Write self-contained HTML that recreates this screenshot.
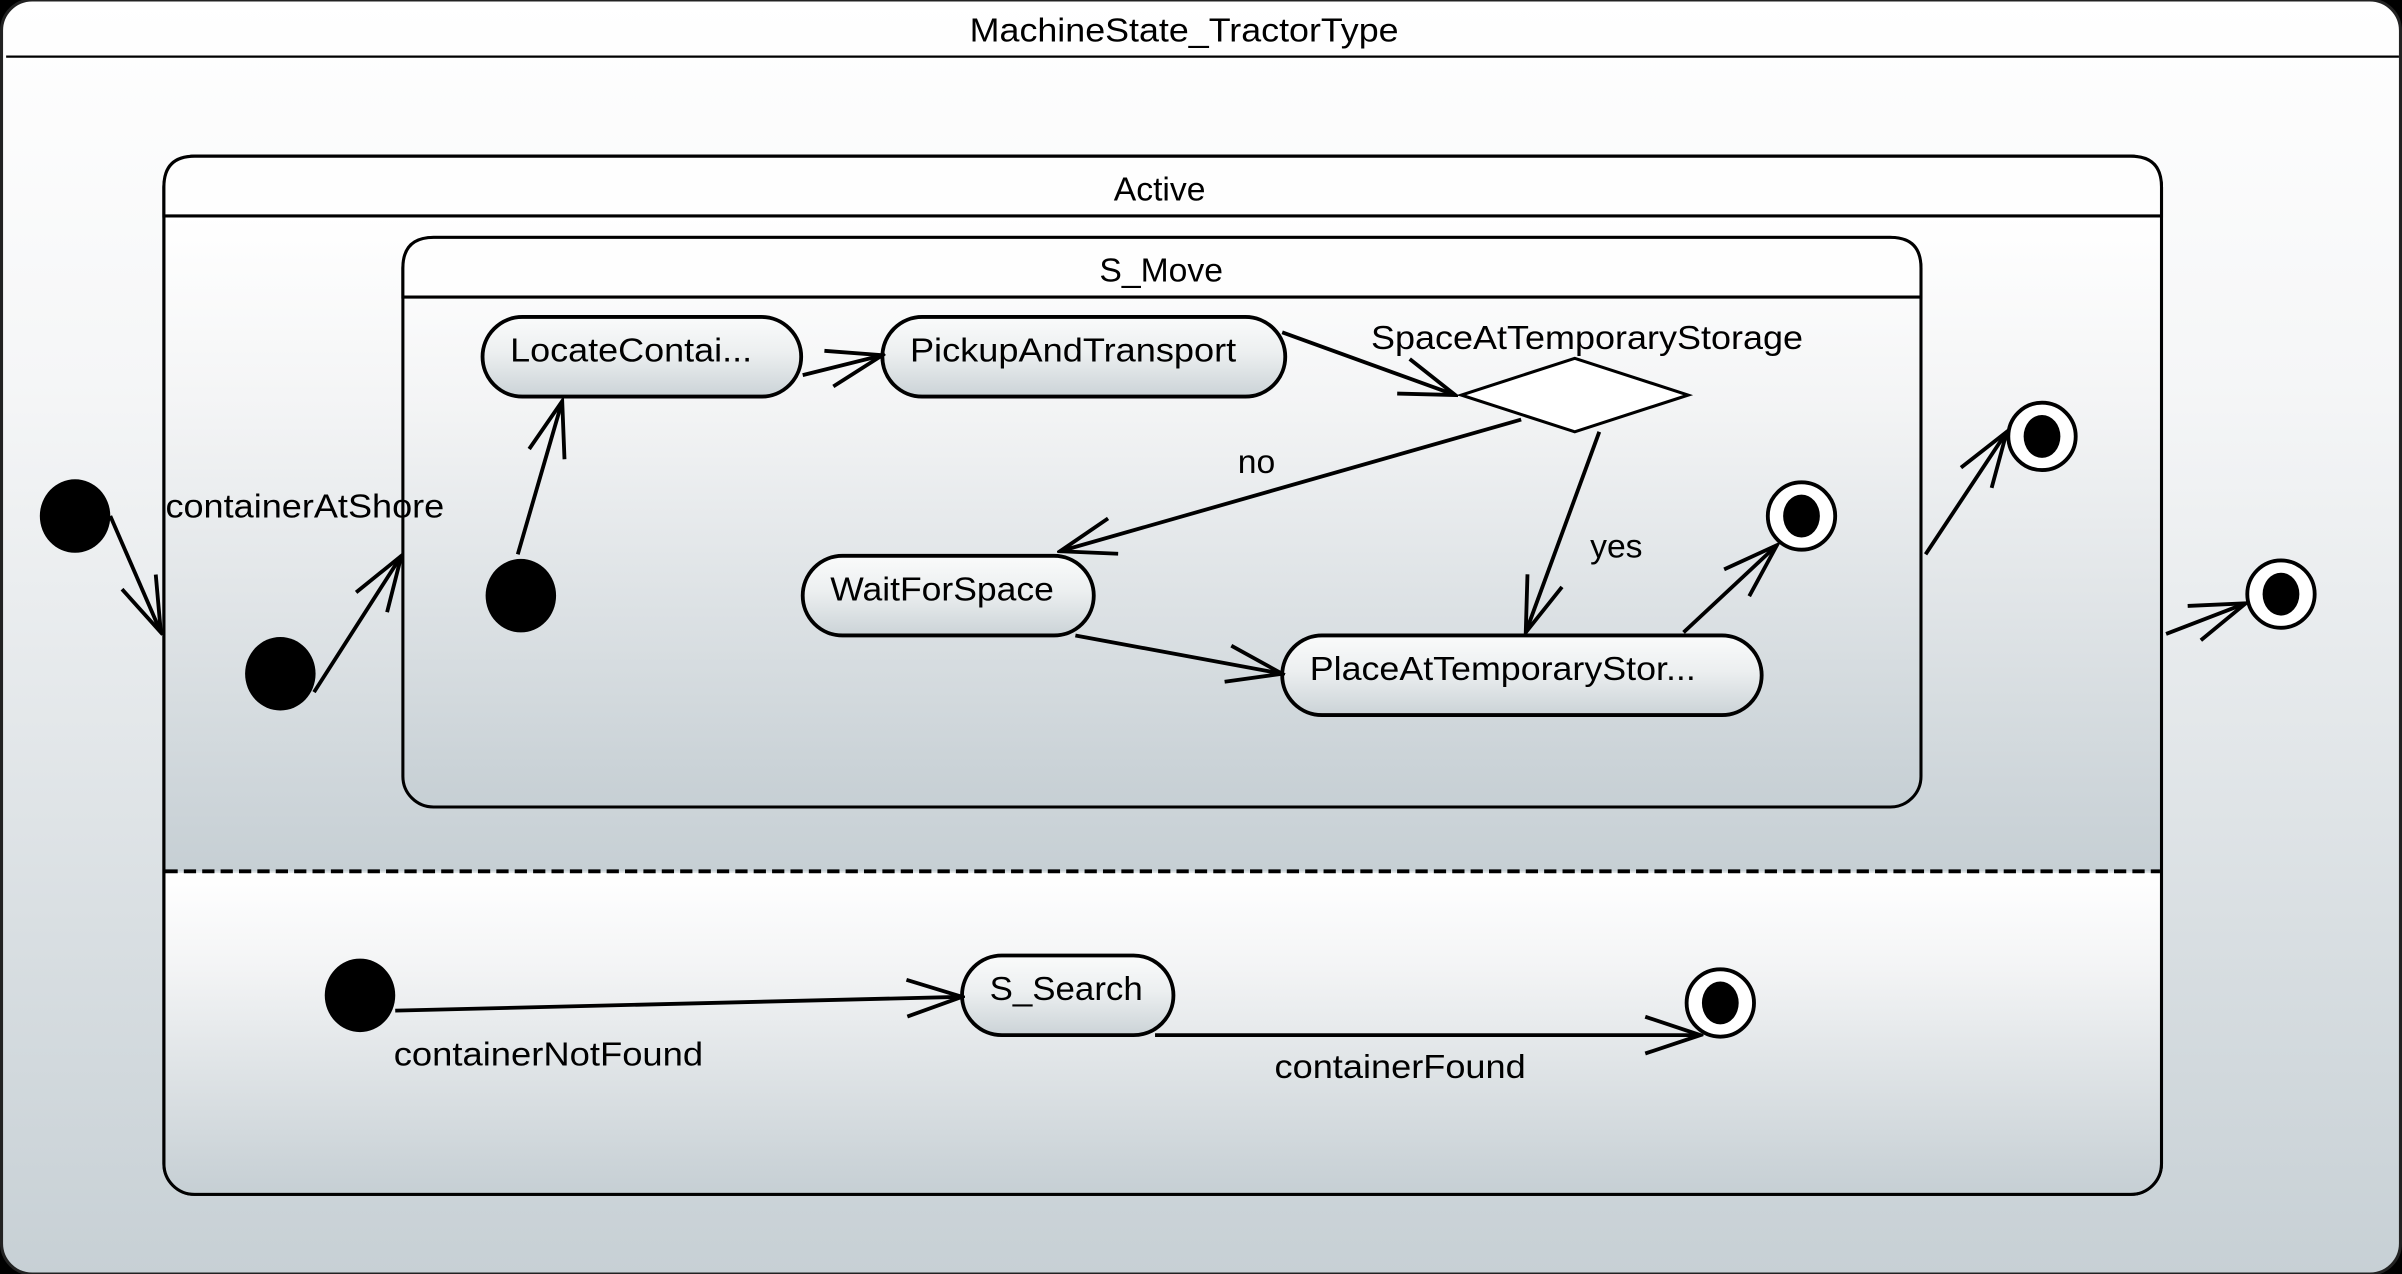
<!DOCTYPE html>
<html><head><meta charset="utf-8"><style>
html,body{margin:0;padding:0;background:#000;}
svg{display:block;}
text{font-family:"Liberation Sans",sans-serif;font-size:22px;fill:#000;}
</style></head><body>
<svg width="2402" height="1274" viewBox="0 0 1568 832" preserveAspectRatio="none" xmlns="http://www.w3.org/2000/svg">
<defs>
<linearGradient id="gOut" x1="0" y1="0" x2="0" y2="1"><stop offset="0" stop-color="#ffffff"/><stop offset="0.3" stop-color="#f5f6f7"/><stop offset="1" stop-color="#c7d0d5"/></linearGradient>
<linearGradient id="gA" x1="0" y1="0" x2="0" y2="1"><stop offset="0" stop-color="#ffffff"/><stop offset="0.3" stop-color="#f3f4f5"/><stop offset="1" stop-color="#c6cfd4"/></linearGradient>
<linearGradient id="gSt" x1="0" y1="0" x2="0" y2="1"><stop offset="0" stop-color="#fafbfb"/><stop offset="0.45" stop-color="#eceff0"/><stop offset="1" stop-color="#cbd3d7"/></linearGradient>
<marker id="ar" viewBox="0 0 40 30" refX="38" refY="15" markerWidth="40" markerHeight="30" markerUnits="userSpaceOnUse" orient="auto">
<path d="M2,3 L38,15 L2,27" fill="none" stroke="#000" stroke-width="2.5"/></marker>
</defs>
<rect x="1" y="0" width="1566" height="832" rx="20" fill="url(#gOut)" stroke="#222" stroke-width="2"/>
<line x1="4" y1="37" x2="1566" y2="37" stroke="#000" stroke-width="1.5"/>
<text x="773" y="27" text-anchor="middle" textLength="280" lengthAdjust="spacingAndGlyphs">MachineState_TractorType</text>
<rect x="107" y="102" width="1304" height="678" rx="20" fill="url(#gA)" stroke="#000" stroke-width="2"/>
<path d="M108,141 H1410 V569 H108 Z" fill="url(#gA)"/>
<path d="M108,570 H1410 V760 Q1410,779 1390,779 H127 Q108,779 108,760 Z" fill="url(#gA)"/>
<rect x="107" y="102" width="1304" height="678" rx="20" fill="none" stroke="#000" stroke-width="2"/>
<path d="M107,122 Q107,102 127,102 H1391 Q1411,102 1411,122 V141 H107 Z" fill="#fefefe" stroke="#000" stroke-width="2"/>
<text x="757" y="131" text-anchor="middle">Active</text>
<line x1="108" y1="569" x2="1410" y2="569" stroke="#000" stroke-width="2.5" stroke-dasharray="8,4"/>
<rect x="263" y="155" width="991" height="372" rx="20" fill="url(#gA)" stroke="#000" stroke-width="2"/>
<path d="M263,175 Q263,155 283,155 H1234 Q1254,155 1254,175 V194 H263 Z" fill="#fefefe" stroke="#000" stroke-width="2"/>
<text x="758" y="184" text-anchor="middle">S_Move</text>
<rect x="315" y="207" width="208" height="52" rx="26" fill="url(#gSt)" stroke="#000" stroke-width="2.5"/>
<text x="333" y="236" textLength="158" lengthAdjust="spacingAndGlyphs">LocateContai...</text>
<rect x="576" y="207" width="263" height="52" rx="26" fill="url(#gSt)" stroke="#000" stroke-width="2.5"/>
<text x="594" y="236" textLength="213" lengthAdjust="spacingAndGlyphs">PickupAndTransport</text>
<rect x="524" y="363" width="190" height="52" rx="26" fill="url(#gSt)" stroke="#000" stroke-width="2.5"/>
<text x="542" y="392" textLength="146" lengthAdjust="spacingAndGlyphs">WaitForSpace</text>
<rect x="837" y="415" width="313" height="52" rx="26" fill="url(#gSt)" stroke="#000" stroke-width="2.5"/>
<text x="855" y="444" textLength="252" lengthAdjust="spacingAndGlyphs">PlaceAtTemporaryStor...</text>
<rect x="628" y="624" width="138" height="52" rx="26" fill="url(#gSt)" stroke="#000" stroke-width="2.5"/>
<text x="646" y="653" textLength="100" lengthAdjust="spacingAndGlyphs">S_Search</text>
<polygon points="954,258 1028,234 1102,258 1028,282" fill="#fff" stroke="#000" stroke-width="2"/>
<text x="895" y="228" textLength="282" lengthAdjust="spacingAndGlyphs">SpaceAtTemporaryStorage</text>
<ellipse cx="49" cy="337" rx="23" ry="24"/>
<ellipse cx="183" cy="440" rx="23" ry="24"/>
<ellipse cx="340" cy="389" rx="23" ry="24"/>
<ellipse cx="235" cy="650" rx="23" ry="24"/>
<g stroke="#000" stroke-width="2.5" fill="#fff">
<circle cx="1333" cy="285" r="22"/><circle cx="1176" cy="337" r="22"/><circle cx="1489" cy="388" r="22"/><circle cx="1123" cy="655" r="22"/>
</g>
<g fill="#000">
<ellipse cx="1333" cy="285" rx="12" ry="14"/><ellipse cx="1176" cy="337" rx="12" ry="14"/><ellipse cx="1489" cy="388" rx="12" ry="14"/><ellipse cx="1123" cy="655" rx="12" ry="14"/>
</g>
<g stroke="#000" stroke-width="2.5" fill="none" marker-end="url(#ar)">
<line x1="72" y1="337" x2="105" y2="413"/>
<line x1="205" y1="452" x2="262" y2="363"/>
<line x1="338" y1="362" x2="367" y2="262"/>
<line x1="524" y1="245" x2="576" y2="232"/>
<line x1="837" y1="217" x2="950" y2="258"/>
<line x1="993" y1="274" x2="692" y2="360"/>
<line x1="1044" y1="282" x2="996" y2="413"/>
<line x1="702" y1="415" x2="837" y2="440"/>
<line x1="1099" y1="413" x2="1160" y2="356"/>
<line x1="1257" y1="362" x2="1310" y2="282"/>
<line x1="1414" y1="414" x2="1466" y2="394"/>
<line x1="258" y1="660" x2="628" y2="651"/>
<polyline points="754,676 1110,676"/>
</g>
<text x="108" y="338" textLength="182" lengthAdjust="spacingAndGlyphs">containerAtShore</text>
<text x="808" y="309">no</text>
<text x="1038" y="364">yes</text>
<text x="257" y="696" textLength="202" lengthAdjust="spacingAndGlyphs">containerNotFound</text>
<text x="832" y="704" textLength="164" lengthAdjust="spacingAndGlyphs">containerFound</text>
</svg>
</body></html>
